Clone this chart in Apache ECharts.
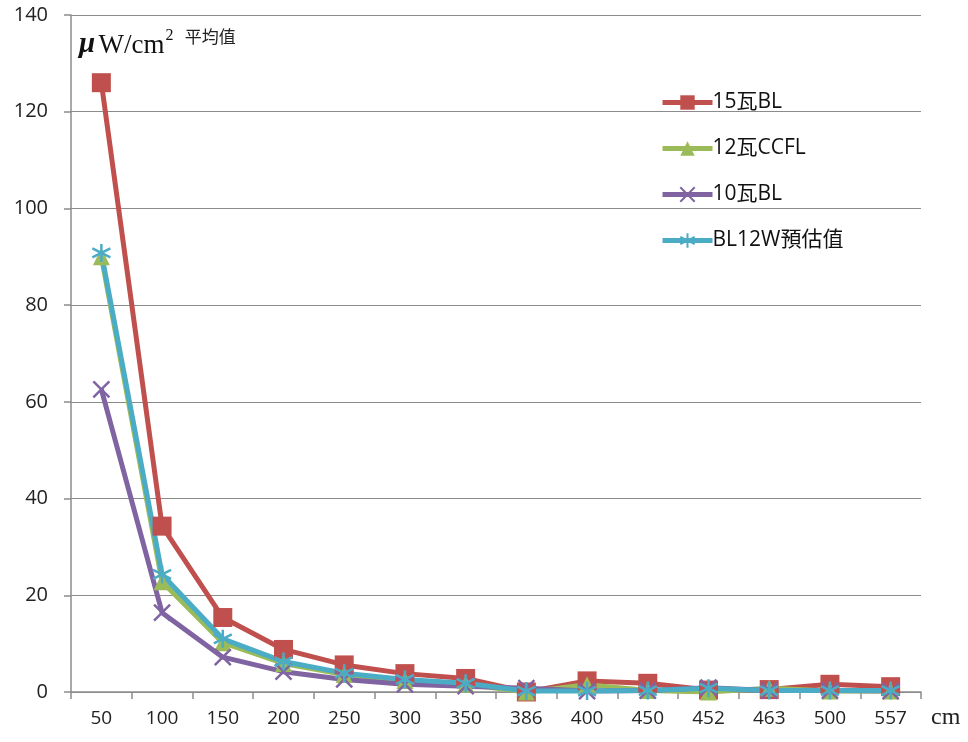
<!DOCTYPE html>
<html>
<head>
<meta charset="utf-8">
<script src="https://cdn.jsdelivr.net/npm/echarts@6/dist/echarts.min.js"></script>
<style>
  html, body { margin: 0; padding: 0; background: #fff; }
  #chart { width: 968px; height: 742px; }
</style>
</head>
<body>
<div id="chart"></div>
<script>
// Distance from the lamp (cm)
const distances = ['50', '100', '150', '200', '250', '300', '350', '386', '400', '450', '452', '463', '500', '557'];

// Average irradiance (μW/cm²) per lamp
const bl15 = [126, 34.3, 15.4, 8.8, 5.6, 3.8, 2.8, 0, 2.3, 1.8, 0.4, 0.5, 1.6, 1.1];
const ccfl12 = [90, 22.8, 10.2, 5.9, 3.6, 2.4, 1.6, 0, 1.5, 0.3, 0, 0.8, 0.2, 0.2];
const bl10 = [62.6, 16.4, 7.2, 4.2, 2.6, 1.6, 1.2, 0.8, 0.2, 0.3, 0.9, 0.3, 0.3, 0.2];
const bl12est = [90.8, 24.3, 11.0, 6.3, 3.9, 2.6, 1.8, 0.2, 0.2, 0.3, 0.8, 0.3, 0.3, 0.3];

const seriesNames = ['15瓦BL', '12瓦CCFL', '10瓦BL', 'BL12W預估值'];
const yTicks = [0, 20, 40, 60, 80, 100, 120, 140];

const font = "'Open Sans', 'Noto Sans CJK TC', sans-serif";
const serif = "'Liberation Serif', 'Times New Roman', 'Noto Sans CJK TC', serif";

const crossPath = 'path://M0,0L10,10M10,0L0,10';
const asteriskPath = 'path://M5,0L5,10M0.7,2.5L9.3,7.5M9.3,2.5L0.7,7.5';

function lineSeries(name, data, color, symbol, size, strokeOnly) {
  return {
    name: name,
    type: 'line',
    data: data,
    symbol: symbol,
    symbolSize: size,
    showAllSymbol: true,
    lineStyle: { color: color, width: 5 },
    itemStyle: strokeOnly
      ? { color: color, borderColor: color, borderWidth: 2.5 }
      : { color: color, borderWidth: 0 },
    emphasis: { disabled: true }
  };
}

const chart = echarts.init(document.getElementById('chart'), null, { renderer: 'canvas' });
chart.setOption({
  animation: false,
  backgroundColor: '#ffffff',
  grid: { left: 71, right: 47, top: 15, bottom: 50 },
  legend: {
    orient: 'vertical',
    left: 655,
    top: 87,
    itemWidth: 50,
    itemHeight: 18,
    itemGap: 25,
    data: seriesNames,
    lineStyle: { width: 5 },
    textStyle: { fontFamily: font, fontSize: 21, color: '#111', padding: [0, 0, 0, -5] }
  },
  xAxis: {
    type: 'category',
    data: distances,
    boundaryGap: true,
    axisLine: { lineStyle: { color: '#8c8c8c', width: 1.5 } },
    axisTick: { show: true, length: 7, inside: false, lineStyle: { color: '#8c8c8c', width: 1.5 } },
    axisLabel: { fontFamily: font, fontSize: 19, color: '#222', margin: 17 },
    splitLine: { show: false }
  },
  yAxis: {
    type: 'value',
    min: yTicks[0],
    max: yTicks[yTicks.length - 1],
    interval: 20,
    axisLine: { show: true, lineStyle: { color: '#8c8c8c', width: 1.5 } },
    axisTick: { show: true, length: 7, lineStyle: { color: '#8c8c8c', width: 1.5 } },
    axisLabel: { fontFamily: font, fontSize: 20, color: '#222', margin: 23 },
    splitLine: { show: true, lineStyle: { color: '#8c8c8c', width: 1.2 } }
  },
  graphic: [
    {
      type: 'text',
      left: 79,
      top: 28,
      style: {
        text: '{mu|μ} {u|W/cm}{sup|2}{avg|   平均值}',
        rich: {
          mu: { fontFamily: serif, fontSize: 29, fontStyle: 'italic', fontWeight: 'bold', fill: '#111', verticalAlign: 'bottom' },
          u: { fontFamily: serif, fontSize: 27, fill: '#111', verticalAlign: 'bottom' },
          sup: { fontFamily: serif, fontSize: 16, fill: '#111', verticalAlign: 'top', padding: [0, 0, 13, 1] },
          avg: { fontFamily: "'Noto Sans CJK TC', sans-serif", fontSize: 17, fill: '#222', verticalAlign: 'top', padding: [0, 0, 14, 0] }
        }
      }
    },
    {
      type: 'text',
      left: 931,
      top: 706,
      style: { text: 'cm', fontFamily: serif, fontSize: 24, fill: '#222' }
    }
  ],
  series: [
    lineSeries(seriesNames[0], bl15, '#C0504D', 'rect', 19, false),
    lineSeries(seriesNames[1], ccfl12, '#9BBB59', 'triangle', 17, false),
    lineSeries(seriesNames[2], bl10, '#8064A2', crossPath, 16, true),
    lineSeries(seriesNames[3], bl12est, '#4BACC6', asteriskPath, 18, true)
  ]
});
</script>
</body>
</html>
